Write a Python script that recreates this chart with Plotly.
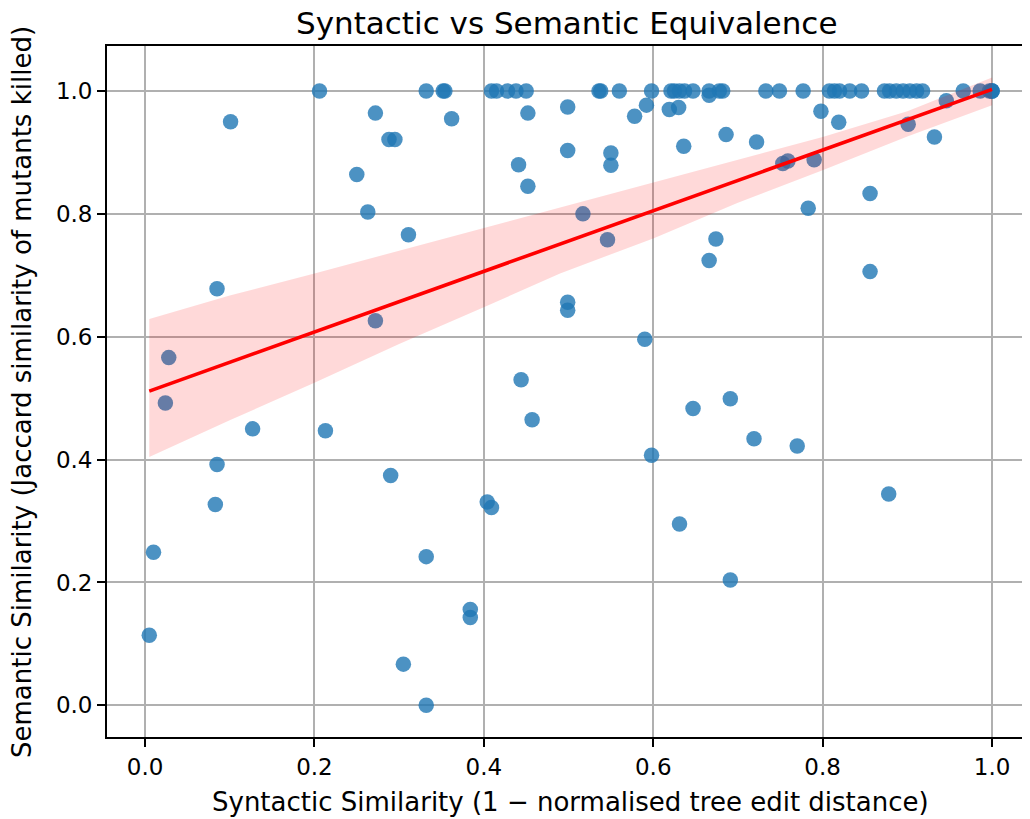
import numpy as np
import plotly.graph_objects as go

# ---- data ----
# points that lie on semantic similarity = 1.0
top_row_x = [0.206, 0.332, 0.352, 0.354, 0.409, 0.415, 0.428, 0.438, 0.450, 0.536, 0.538, 0.560,
             0.598, 0.621, 0.625, 0.631, 0.637, 0.647, 0.666, 0.678, 0.682, 0.733, 0.749, 0.777,
             0.808, 0.814, 0.820, 0.832, 0.846, 0.873, 0.879, 0.887, 0.895, 0.903, 0.911, 0.918,
             0.966, 0.986, 0.997, 1.0, 1.0, 1.0]
top_row_y = [1.0] * len(top_row_x)

# remaining points
other_x = [0.666, 0.101, 0.272, 0.288, 0.295, 0.250, 0.263, 0.311, 0.085, 0.272,
           0.028, 0.024, 0.127, 0.213, 0.085, 0.083, 0.290, 0.010, 0.332, 0.384,
           0.384, 0.005, 0.305, 0.332, 0.362, 0.452, 0.499, 0.592, 0.578, 0.499,
           0.550, 0.550, 0.441, 0.452, 0.619, 0.630, 0.636, 0.686, 0.722, 0.753,
           0.759, 0.790, 0.798, 0.819, 0.901, 0.932, 0.946, 0.783, 0.856, 0.856,
           0.674, 0.666, 0.517, 0.546, 0.499, 0.499, 0.590, 0.444, 0.457, 0.647,
           0.691, 0.719, 0.598, 0.404, 0.409, 0.631, 0.691, 0.770, 0.878]
other_y = [0.993, 0.950, 0.964, 0.921, 0.921, 0.864, 0.803, 0.766, 0.678, 0.626,
           0.566, 0.492, 0.450, 0.447, 0.392, 0.327, 0.374, 0.249, 0.242, 0.156,
           0.143, 0.114, 0.067, 0.000, 0.955, 0.964, 0.974, 0.977, 0.959, 0.903,
           0.899, 0.879, 0.880, 0.845, 0.970, 0.973, 0.910, 0.929, 0.917, 0.882,
           0.886, 0.888, 0.967, 0.949, 0.946, 0.925, 0.984, 0.809, 0.833, 0.706,
           0.759, 0.724, 0.800, 0.758, 0.656, 0.643, 0.596, 0.530, 0.465, 0.483,
           0.499, 0.434, 0.407, 0.331, 0.322, 0.295, 0.204, 0.422, 0.344]

# 95% confidence band of the regression
band_x = [0.005, 0.1, 0.2, 0.3, 0.4, 0.49, 0.6, 0.7, 0.8, 0.9, 1.0]
band_lower = [0.404, 0.464, 0.525, 0.588, 0.648, 0.703, 0.760, 0.818, 0.871, 0.926, 0.977]
band_upper = [0.629, 0.667, 0.703, 0.740, 0.777, 0.811, 0.852, 0.888, 0.925, 0.967, 1.022]

x_ticks = [0.0, 0.2, 0.4, 0.6, 0.8, 1.0]
y_ticks = [0.0, 0.2, 0.4, 0.6, 0.8, 1.0]

title_text = "Syntactic vs Semantic Equivalence"
x_title = "Syntactic Similarity (1 \u2212 normalised tree edit distance)"
y_title = "Semantic Similarity (Jaccard similarity of mutants killed)"

# ---- regression line from the data ----
xs = np.array(top_row_x + other_x)
ys = np.array(top_row_y + other_y)
slope, intercept = np.polyfit(xs, ys, 1)
line_x = np.array([xs.min(), xs.max()])
line_y = intercept + slope * line_x

FONT = "DejaVu Sans"
BLUE = "rgba(31,119,180,0.8)"

fig = go.Figure()
fig.add_trace(go.Scatter(
    x=xs, y=ys, mode="markers",
    marker=dict(size=15.5, color=BLUE, line=dict(width=0)),
    showlegend=False, hoverinfo="x+y"))
fig.add_trace(go.Scatter(
    x=band_x + band_x[::-1], y=band_upper + band_lower[::-1],
    mode="lines", fill="toself", fillcolor="rgba(255,0,0,0.15)",
    line=dict(width=0, color="rgba(0,0,0,0)"), showlegend=False, hoverinfo="skip"))
fig.add_trace(go.Scatter(
    x=line_x, y=line_y, mode="lines",
    line=dict(color="red", width=3.6), showlegend=False))

# page layout (page has an 8px body margin)
W, H = 1022, 811
ML, MT, MB, MR = 99, 38, 82, 0
PW = W - ML - MR
PH = H - MT - MB
OFF = 8

def px_x(page_x):
    return (page_x - OFF - ML) / PW

def px_y(page_y):
    return (H - MB - (page_y - OFF)) / PH

axis_common = dict(
    showgrid=True, gridcolor="#b0b0b0", gridwidth=1.6,
    showline=True, linecolor="black", linewidth=1.8,
    ticks="outside", ticklen=8, tickwidth=1.8, tickcolor="black",
    zeroline=False, tickformat=".1f",
    tickfont=dict(family=FONT, size=23, color="#000000"),
)

fig.update_xaxes(range=[-0.0449, -0.0449 + PW / 847.0], tickvals=x_ticks,
                 mirror=True, **axis_common)
fig.update_yaxes(range=[-0.0516, -0.0516 + PH / 614.3], tickvals=y_ticks,
                 mirror=False, **axis_common)

fig.add_annotation(text=title_text, xref="paper", yref="paper",
                   x=px_x(566.5), y=px_y(23), xanchor="center", yanchor="middle",
                   borderpad=0, showarrow=False,
                   font=dict(family=FONT, size=31, color="#000000"))
fig.add_annotation(text=x_title, xref="paper", yref="paper",
                   x=px_x(570.5), y=px_y(802), xanchor="center", yanchor="middle",
                   showarrow=False, font=dict(family=FONT, size=26, color="#000000"))
fig.add_annotation(text=y_title, xref="paper", yref="paper",
                   x=px_x(22), y=px_y(392), xanchor="center", yanchor="middle",
                   textangle=-90, showarrow=False,
                   font=dict(family=FONT, size=26, color="#000000"))

fig.update_layout(
    width=W, height=H,
    margin=dict(l=ML, r=MR, t=MT, b=MB, pad=0),
    plot_bgcolor="white", paper_bgcolor="white",
    font=dict(family=FONT, color="#000000"),
    showlegend=False,
)

fig.write_html("out.html")
